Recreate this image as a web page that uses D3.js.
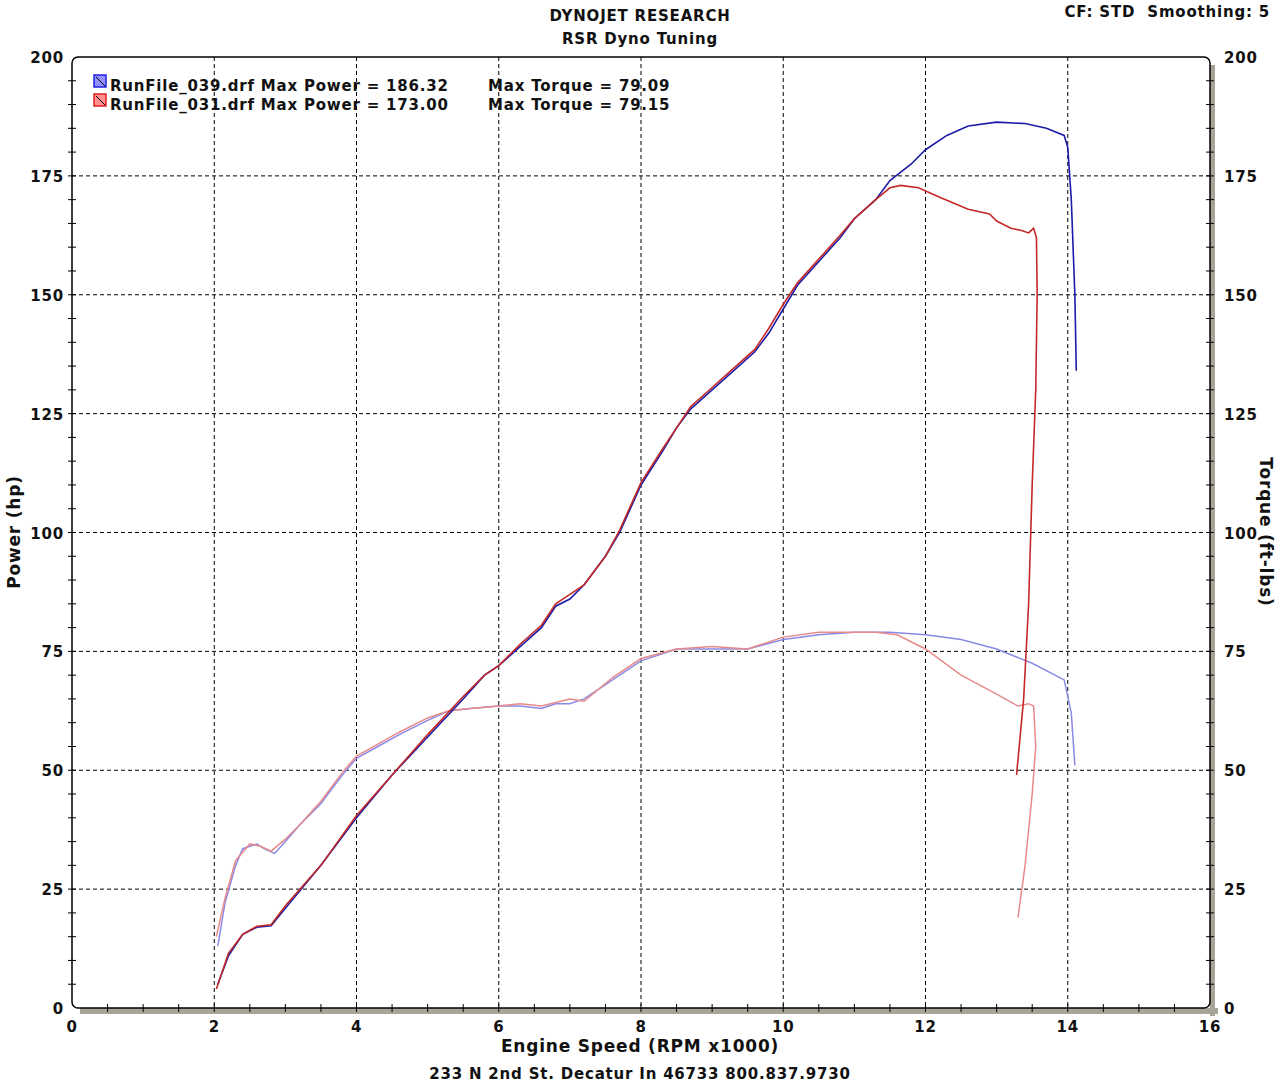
<!DOCTYPE html>
<html>
<head>
<meta charset="utf-8">
<script src="https://cdn.jsdelivr.net/npm/d3@7"></script>
<style>
body { margin: 0; background: #fff; }
text { font-family: "DejaVu Sans", Verdana, sans-serif; font-weight: bold; fill: #111; letter-spacing: 0.8px; }
</style>
</head>
<body>
<svg id="chart" width="1280" height="1085"></svg>
<script>
// values: [rpm x1000, value]
var powerBlue = [[2.05,5],[2.2,11],[2.4,15.5],[2.6,17],[2.8,17.3],[3.0,21],[3.5,30],[4.0,40],[4.5,49],[5.0,57],[5.5,65],[5.8,70],[6.0,72],[6.3,76],[6.6,80],[6.8,84.5],[7.0,86],[7.2,89],[7.5,95],[7.7,100],[8.0,110],[8.3,117],[8.5,122],[8.7,126],[9.0,130],[9.3,134],[9.6,138],[9.8,142],[10.0,147],[10.2,152],[10.5,157],[10.8,162],[11.0,166],[11.3,170],[11.5,174],[11.8,177.5],[12.0,180.5],[12.3,183.5],[12.6,185.5],[13.0,186.3],[13.4,186],[13.7,185],[13.95,183.5],[14.0,181],[14.05,170],[14.1,150],[14.12,134]]
var powerRed = [[2.03,4],[2.2,11.5],[2.4,15.5],[2.6,17.2],[2.8,17.5],[3.0,21.5],[3.5,30],[4.0,40.5],[4.5,49],[5.0,57.5],[5.5,65.5],[5.8,70],[6.0,72],[6.3,76.5],[6.6,80.5],[6.8,85],[7.0,87],[7.2,89],[7.5,95],[7.7,100.5],[8.0,110.5],[8.3,117.5],[8.5,122],[8.7,126.5],[9.0,130.5],[9.3,134.5],[9.6,138.5],[9.8,143],[10.0,148],[10.2,152.5],[10.5,157.5],[10.8,162.5],[11.0,166],[11.3,170],[11.5,172.5],[11.65,173],[11.9,172.5],[12.2,170.5],[12.6,168],[12.9,167],[13.0,165.5],[13.2,164],[13.35,163.5],[13.45,163],[13.52,164],[13.56,162],[13.57,150],[13.55,130],[13.5,110],[13.45,85],[13.38,65],[13.28,49]]
var torqueBlue = [[2.05,13],[2.15,22],[2.3,30],[2.4,33.5],[2.6,34.5],[2.7,33.5],[2.85,32.5],[3.0,35],[3.2,38.5],[3.5,43],[3.8,49],[4.0,52.5],[4.3,55],[4.6,57.5],[5.0,60.5],[5.3,62.5],[5.6,63],[6.0,63.5],[6.3,63.5],[6.6,63],[6.8,64],[7.0,64],[7.2,65],[7.6,69],[8.0,73],[8.5,75.5],[9.0,75.5],[9.5,75.5],[10.0,77.5],[10.5,78.5],[11.0,79],[11.5,79],[12.0,78.5],[12.5,77.5],[13.0,75.5],[13.5,72.5],[13.95,69],[14.05,62],[14.1,51]]
var torqueRed = [[2.03,15],[2.15,23],[2.3,31],[2.5,34.5],[2.65,34],[2.8,33],[3.0,35.5],[3.2,38.5],[3.5,43.5],[3.8,49.5],[4.0,53],[4.3,55.5],[4.6,58],[5.0,61],[5.3,62.5],[5.6,63],[6.0,63.5],[6.3,64],[6.6,63.5],[7.0,65],[7.2,64.5],[7.6,69.5],[8.0,73.5],[8.5,75.5],[9.0,76],[9.5,75.5],[10.0,78],[10.5,79],[11.0,79],[11.3,79],[11.6,78.5],[12.0,75.5],[12.5,70],[13.0,66],[13.3,63.5],[13.45,64],[13.52,63.5],[13.55,55],[13.5,45],[13.4,30],[13.3,19]]

var xTicks = [0,2,4,6,8,10,12,14,16]
var yTicks = [0,25,50,75,100,125,150,175,200]

var svg = d3.select("#chart")
var plotLeft = 72, plotRight = 1210, plotTop = 57, plotBottom = 1008

var x = d3.scaleLinear().domain([0,16]).range([plotLeft,plotRight])
var y = d3.scaleLinear().domain([0,200]).range([plotBottom,plotTop])

// shadow right & bottom
svg.append("rect").attr("x",plotRight).attr("y",plotTop+8).attr("width",5).attr("height",plotBottom-plotTop).attr("fill","#a8a49a")
svg.append("rect").attr("x",plotLeft+8).attr("y",plotBottom).attr("width",plotRight-plotLeft).attr("height",6).attr("fill","#a8a49a")
svg.append("rect").attr("x",plotLeft).attr("y",plotTop).attr("width",plotRight-plotLeft).attr("height",plotBottom-plotTop).attr("rx",6).attr("fill","#fff")

// grid
var g = svg.append("g")
g.selectAll(".vg").data(xTicks.slice(1,-1)).enter().append("line")
    .attr("x1",d=>x(d)).attr("x2",d=>x(d)).attr("y1",plotTop).attr("y2",plotBottom)
    .attr("stroke","#000").attr("stroke-dasharray","4,3")
g.selectAll(".hg").data(yTicks.slice(1,-1)).enter().append("line")
    .attr("x1",plotLeft).attr("x2",plotRight).attr("y1",d=>y(d)).attr("y2",d=>y(d))
    .attr("stroke","#000").attr("stroke-dasharray","4,3")

// frame with rounded corners
svg.append("rect").attr("x",plotLeft).attr("y",plotTop).attr("width",plotRight-plotLeft).attr("height",plotBottom-plotTop)
    .attr("rx",6).attr("fill","none").attr("stroke","#000").attr("stroke-width",1.5)

// minor ticks
var yMinor = d3.range(5,200,5)
svg.selectAll(".ylt").data(yMinor).enter().append("line")
    .attr("x1",plotLeft-4).attr("x2",plotLeft+4).attr("y1",d=>y(d)).attr("y2",d=>y(d)).attr("stroke","#000")
svg.selectAll(".yrt").data(yMinor).enter().append("line")
    .attr("x1",plotRight-4).attr("x2",plotRight+4).attr("y1",d=>y(d)).attr("y2",d=>y(d)).attr("stroke","#000")
var xMinor = d3.range(0.5,16,0.5)
svg.selectAll(".xt").data(xMinor).enter().append("line")
    .attr("x1",d=>x(d)).attr("x2",d=>x(d)).attr("y1",plotBottom-4).attr("y2",plotBottom+4).attr("stroke","#000")

// tick labels
svg.selectAll(".yl").data(yTicks).enter().append("text")
    .attr("x",plotLeft-8).attr("y",d=>y(d)+6).attr("text-anchor","end").attr("font-size",15).text(d=>d)
svg.selectAll(".yr").data(yTicks).enter().append("text")
    .attr("x",plotRight+14).attr("y",d=>y(d)+6).attr("font-size",15).text(d=>d)
svg.selectAll(".xl").data(xTicks).enter().append("text")
    .attr("x",d=>x(d)).attr("y",plotBottom+24).attr("text-anchor","middle").attr("font-size",15).text(d=>d)

// curves
var line = d3.line().x(d=>x(d[0])).y(d=>y(d[1]))
function draw(data, color, w)
{
    svg.append("path").datum(data).attr("d",line).attr("fill","none").attr("stroke",color).attr("stroke-width",w)
}
draw(torqueBlue,"#8a8ae6",1.5)
draw(torqueRed,"#e88a8a",1.5)
draw(powerBlue,"#1c1ca8",1.6)
draw(powerRed,"#c42828",1.6)

// legend
var legend = [
    {c1:"#2020e0", c2:"#9090ff", t:"RunFile_039.drf Max Power = 186.32", q:"Max Torque = 79.09"},
    {c1:"#e02020", c2:"#ff9090", t:"RunFile_031.drf Max Power = 173.00", q:"Max Torque = 79.15"}
]
legend.forEach(function(d,i)
{
    var yy = 78 + i*19
    svg.append("rect").attr("x",94).attr("y",yy-3).attr("width",12).attr("height",12).attr("fill",d.c2).attr("stroke",d.c1).attr("stroke-width",1.5)
    svg.append("line").attr("x1",96).attr("y1",yy-1).attr("x2",105).attr("y2",yy+8).attr("stroke","#000")
    svg.append("text").attr("x",110).attr("y",yy+13).attr("font-size",15).text(d.t)
    svg.append("text").attr("x",488).attr("y",yy+13).attr("font-size",15).text(d.q)
})

// titles
svg.append("text").attr("x",640).attr("y",21).attr("text-anchor","middle").attr("font-size",15).text("DYNOJET RESEARCH")
svg.append("text").attr("x",640).attr("y",44).attr("text-anchor","middle").attr("font-size",15).text("RSR Dyno Tuning")
svg.append("text").attr("x",1270).attr("y",17).attr("text-anchor","end").attr("font-size",15).attr("xml:space","preserve").text("CF: STD  Smoothing: 5")
svg.append("text").attr("x",640).attr("y",1052).attr("text-anchor","middle").attr("font-size",17).text("Engine Speed (RPM x1000)")
svg.append("text").attr("x",640).attr("y",1079).attr("text-anchor","middle").attr("font-size",15).text("233 N 2nd St. Decatur In 46733 800.837.9730")
svg.append("text").attr("transform","translate(20,532) rotate(-90)").attr("text-anchor","middle").attr("font-size",17).text("Power (hp)")
svg.append("text").attr("transform","translate(1260,532) rotate(90)").attr("text-anchor","middle").attr("font-size",17).text("Torque (ft-lbs)")
</script>
</body>
</html>
